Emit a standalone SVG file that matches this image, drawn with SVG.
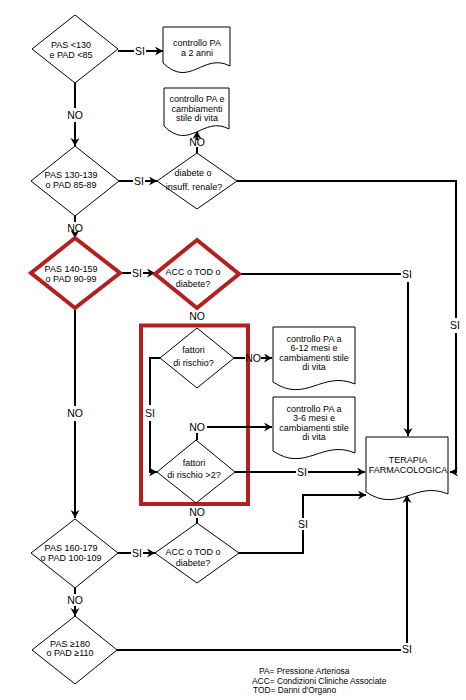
<svg xmlns="http://www.w3.org/2000/svg" width="466" height="700" viewBox="0 0 466 700">
<style>
text{font-family:"Liberation Sans",Arial,sans-serif;fill:#000}
.t{font-size:9px;text-anchor:middle}
.l{font-size:10.5px;text-anchor:middle}
.g{font-size:8.4px}
.d{fill:#fff;stroke:#000;stroke-width:1}
.r{fill:#fff;stroke:#b3201f;stroke-width:4;stroke-linejoin:miter}
.c{fill:none;stroke:#000;stroke-width:2}
.a{fill:none;stroke:#000;stroke-width:2;marker-end:url(#ah)}
</style>
<defs>
<marker id="ah" markerUnits="userSpaceOnUse" markerWidth="10" markerHeight="10" refX="8" refY="4.5" orient="auto">
<path d="M0,0 L8,4.5 L0,9 L2.5,4.5 Z" fill="#000"/>
</marker>
</defs>
<rect width="466" height="700" fill="#fff"/>

<g id="riquadro">
<rect x="141" y="325.5" width="107" height="178.5" fill="none" stroke="#b3201f" stroke-width="4"/>
</g>

<g id="connettori">
<path class="c" d="M118,51 H134"/><text class="l" x="140" y="55">SI</text><path class="a" d="M146,51 H163"/>
<path class="c" d="M75,83 V108"/><text class="l" x="75" y="119">NO</text><path class="a" d="M75,122 V146"/>
<path class="c" d="M119,181 H133"/><text class="l" x="139" y="185">SI</text><path class="a" d="M145,181 H157"/>
<path class="c" d="M197,147 V153"/><text class="l" x="197" y="146">NO</text><path class="a" d="M197,140 V131"/>
<path class="c" d="M237,181 H456 V318"/><text class="l" x="455" y="329">SI</text><path class="a" d="M456,333 V472 H450"/>
<path class="c" d="M75,216 V222"/><text class="l" x="75" y="232">NO</text><path class="a" d="M75,233 V238"/>
<path class="c" d="M120,273 H131"/><text class="l" x="137" y="277">SI</text><path class="a" d="M143,273 H155"/>
<path class="c" d="M239,274 H401"/><text class="l" x="407" y="278">SI</text><path class="a" d="M408,282 V436"/>
<text class="l" x="197" y="320">NO</text>
<path class="c" d="M234,358 H245"/><text class="l" x="253" y="362">NO</text><path class="a" d="M261,358 H272"/>
<path class="c" d="M160,358 H150 V405"/><text class="l" x="150" y="417">SI</text><path class="a" d="M150,421 V472 H157"/>
<text class="l" x="197" y="431">NO</text><path class="c" d="M197,433 V440"/><path class="a" d="M207,427 H272"/>
<path class="c" d="M235,472 H296"/><text class="l" x="302" y="476">SI</text><path class="a" d="M308,472 H365"/>
<text class="l" x="197" y="516">NO</text><path class="c" d="M197,518 V523"/>
<path class="c" d="M238,553 H303 V530"/><text class="l" x="303" y="528">SI</text><path class="a" d="M303,518 V495 H366"/>
<path class="c" d="M75,308 V406"/><text class="l" x="75" y="417">NO</text><path class="a" d="M75,421 V518"/>
<path class="c" d="M118,553 H131"/><text class="l" x="137" y="557">SI</text><path class="a" d="M143,553 H155"/>
<path class="c" d="M75,588 V594"/><text class="l" x="75" y="604">NO</text><path class="a" d="M75,606 V616"/>
<path class="c" d="M117,650 H401"/><text class="l" x="407" y="653">SI</text><path class="a" d="M407,643 V495"/>
</g>

<g id="d1"><polygon class="d" points="75,15 118,49 75,83 32,49"/>
<text class="t" x="71" y="48">PAS &lt;130</text><text class="t" x="71" y="58">e PAD &lt;85</text></g>

<g id="doc1"><path class="d" d="M163,27 H230 V66 C203,52 190,89 163,63 Z"/>
<text class="t" x="197" y="46">controllo PA</text><text class="t" x="197" y="56">a 2 anni</text></g>

<g id="doc2"><path class="d" d="M164,88 H229 V129 C203,115 190,152 164,126 Z"/>
<text class="t" x="197" y="102">controllo PA e</text><text class="t" x="197" y="112">cambiamenti</text><text class="t" x="197" y="121">stile di vita</text></g>

<g id="d2"><polygon class="d" points="75,146 119,181 75,216 31,181"/>
<text class="t" x="71" y="178">PAS 130-139</text><text class="t" x="71" y="188">o PAD 85-89</text></g>

<g id="d3"><polygon class="d" points="197,153 237,181 197,209 157,181"/>
<text class="t" x="193" y="176">diabete o</text><text class="t" x="194" y="190">insuff. renale?</text></g>

<g id="d4"><polygon class="r" points="75,238 120,273 75,308 31,273"/>
<text class="t" x="71" y="272">PAS 140-159</text><text class="t" x="71" y="282">o PAD 90-99</text></g>

<g id="d5"><polygon class="r" points="197,240 239,274 197,308 155,274"/>
<text class="t" x="193" y="275">ACC o TOD o</text><text class="t" x="193" y="287">diabete?</text></g>

<g id="d6"><polygon class="d" points="197,328 234,358 197,388 160,358"/>
<text class="t" x="193.5" y="353">fattori</text><text class="t" x="193.5" y="366">di rischio?</text></g>

<g id="doc3"><path class="d" d="M273,327 H355 V384 C322,370 306,404 273,382 Z"/>
<text class="t" x="314" y="342">controllo PA a</text><text class="t" x="314" y="351">6-12 mesi e</text><text class="t" x="314" y="361">cambiamenti stile</text><text class="t" x="314" y="370">di vita</text></g>

<g id="doc4"><path class="d" d="M273,397 H355 V453 C322,439 306,473 273,451 Z"/>
<text class="t" x="314" y="412">controllo PA a</text><text class="t" x="314" y="421">3-6 mesi e</text><text class="t" x="314" y="431">cambiamenti stile</text><text class="t" x="314" y="440">di vita</text></g>

<g id="d7"><polygon class="d" points="196,440 235,472 196,503 157,472"/>
<text class="t" x="194" y="466">fattori</text><text class="t" x="194" y="478">di rischio &gt;2?</text></g>

<g id="terapia"><path class="d" d="M366,437 H448 V494 C415,480 399,514 366,492 Z"/>
<text class="t" x="408" y="463">TERAPIA</text><text class="t" x="408" y="473">FARMACOLOGICA</text></g>

<g id="d8"><polygon class="d" points="197,523 239,553 197,583 155,553"/>
<text class="t" x="193" y="555">ACC o TOD o</text><text class="t" x="193" y="566">diabete?</text></g>

<g id="d9"><polygon class="d" points="75,519 118,553 75,588 31,553"/>
<text class="t" x="71" y="551">PAS 160-179</text><text class="t" x="71" y="561">o PAD 100-109</text></g>

<g id="d10"><polygon class="d" points="75,616 117,650 75,684 32,650"/>
<text class="t" x="70" y="647">PAS ≥180</text><text class="t" x="70" y="656">o PAD ≥110</text></g>

<g id="legenda">
<text class="g" x="259" y="674">PA= Pressione Arteriosa</text>
<text class="g" x="252" y="684">ACC= Condizioni Cliniche Associate</text>
<text class="g" x="253" y="693">TOD= Danni d'Organo</text>
</g>
</svg>
